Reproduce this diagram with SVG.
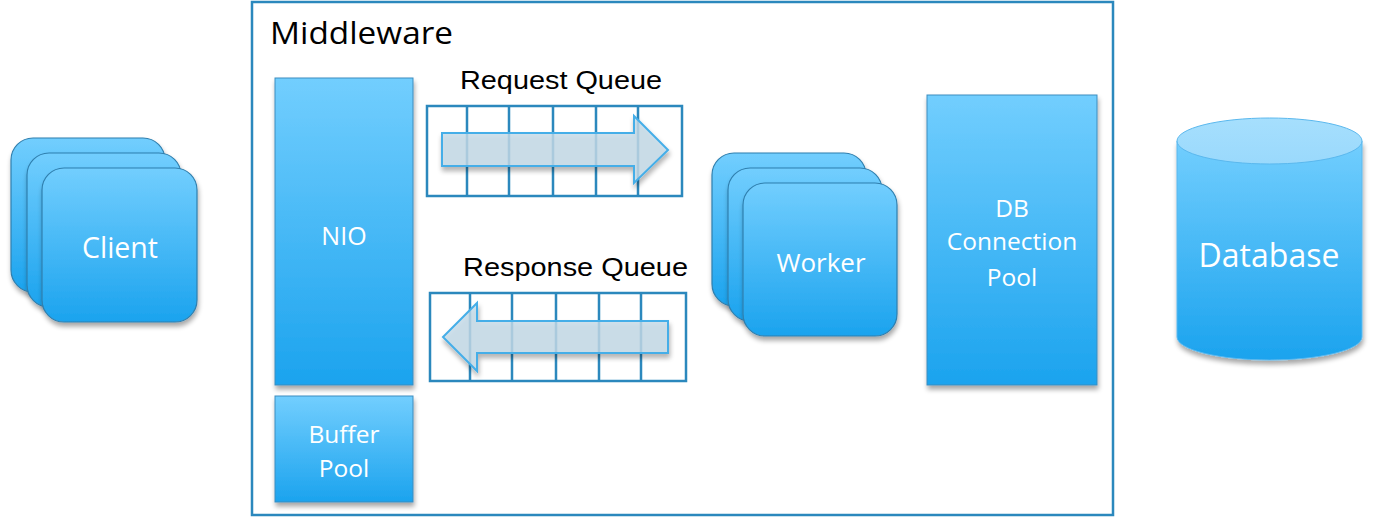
<svg xmlns="http://www.w3.org/2000/svg" width="1373" height="518" viewBox="0 0 1373 518">
<defs>
<linearGradient id="blue" x1="0" y1="0" x2="0" y2="1">
<stop offset="0" stop-color="#72cefe"/>
<stop offset="1" stop-color="#1ba3ee"/>
</linearGradient>
<linearGradient id="cylTop" x1="0" y1="0" x2="0" y2="1">
<stop offset="0" stop-color="#a6dffd"/>
<stop offset="1" stop-color="#9ad9fc"/>
</linearGradient>
<filter id="sh" x="-10%" y="-10%" width="125%" height="125%">
<feGaussianBlur in="SourceAlpha" stdDeviation="2.5"/>
<feOffset dx="1" dy="4" result="b"/>
<feComponentTransfer><feFuncA type="linear" slope="0.35"/></feComponentTransfer>
<feMerge><feMergeNode/><feMergeNode in="SourceGraphic"/></feMerge>
</filter>
</defs>
<style>
.box{fill:url(#blue);stroke:#3d8dbf;stroke-width:1;filter:url(#sh)}
.card{fill:url(#blue);stroke:#2f7fae;stroke-width:1.2;filter:url(#sh)}
.lbl{font-family:"Open Sans","Noto Sans",sans-serif;fill:#ffffff;text-anchor:middle}
.qlbl{font-family:"Liberation Sans",Arial,sans-serif;font-size:26px;fill:#000000}
.grid{fill:none;stroke:#2b88bd;stroke-width:2.5}
.qarrow{fill:#c6dcea;fill-opacity:0.8;stroke:#45aee8;stroke-width:2;filter:url(#sh)}
.frame{fill:#ffffff;stroke:#2b88bd;stroke-width:2.5}
</style>
<rect width="1373" height="518" fill="#ffffff"/>

<g id="middleware">
<rect class="frame" x="252" y="2" width="861" height="513"/>
<text x="270" y="44" font-family="'Open Sans','Noto Sans',sans-serif" font-size="31" fill="#000000" textLength="183" lengthAdjust="spacingAndGlyphs">Middleware</text>
</g>

<g id="client">
<rect class="card" x="11" y="138" width="154" height="154" rx="22"/>
<rect class="card" x="27" y="153" width="154" height="154" rx="22"/>
<rect class="card" x="42" y="168" width="155" height="154" rx="22"/>
<text class="lbl" x="120" y="258" font-size="28.5">Client</text>
</g>

<g id="nio">
<rect class="box" x="275" y="78" width="138" height="307"/>
<text class="lbl" x="344" y="245" font-size="25">NIO</text>
</g>

<g id="buffer-pool">
<rect class="box" x="275" y="396" width="138" height="106"/>
<text class="lbl" x="344" y="443" font-size="24.5">Buffer</text>
<text class="lbl" x="344" y="477" font-size="24.5">Pool</text>
</g>

<g id="request-queue">
<text class="qlbl" x="460" y="89" textLength="202" lengthAdjust="spacingAndGlyphs">Request Queue</text>
<rect class="grid" x="427" y="106" width="255" height="90"/>
<path class="grid" d="M467 106V196M509 106V196M553 106V196M596 106V196M638 106V196"/>
<path class="qarrow" d="M442 133H634V116L668 150L634 183V166H442Z"/>
</g>

<g id="response-queue">
<text class="qlbl" x="463" y="276" textLength="225" lengthAdjust="spacingAndGlyphs">Response Queue</text>
<rect class="grid" x="430" y="293" width="256" height="88"/>
<path class="grid" d="M470 293V381M512 293V381M556 293V381M599 293V381M641 293V381"/>
<path class="qarrow" d="M668 321H477V303L443 337L477 371V353H668Z"/>
</g>

<g id="worker">
<rect class="card" x="712" y="153" width="154" height="153" rx="22"/>
<rect class="card" x="728" y="168" width="154" height="153" rx="22"/>
<rect class="card" x="743" y="183" width="154" height="153" rx="22"/>
<text class="lbl" x="821" y="272" font-size="26">Worker</text>
</g>

<g id="db-connection-pool">
<rect class="box" x="927" y="95" width="170" height="290"/>
<text class="lbl" x="1012" y="217" font-size="24.5">DB</text>
<text class="lbl" x="1012" y="250" font-size="24.5">Connection</text>
<text class="lbl" x="1012" y="286" font-size="24.5">Pool</text>
</g>

<g id="database">
<path d="M1177 141V337A92.5 23 0 0 0 1362 337V141Z" fill="url(#blue)" stroke="#5ab8ee" stroke-width="1" filter="url(#sh)"/>
<ellipse cx="1269.5" cy="141" rx="92.5" ry="23" fill="url(#cylTop)" stroke="#5ab8ee" stroke-width="1"/>
<text class="lbl" x="1269" y="267" font-size="32">Database</text>
</g>

<g id="connectors"></g>
</svg>
